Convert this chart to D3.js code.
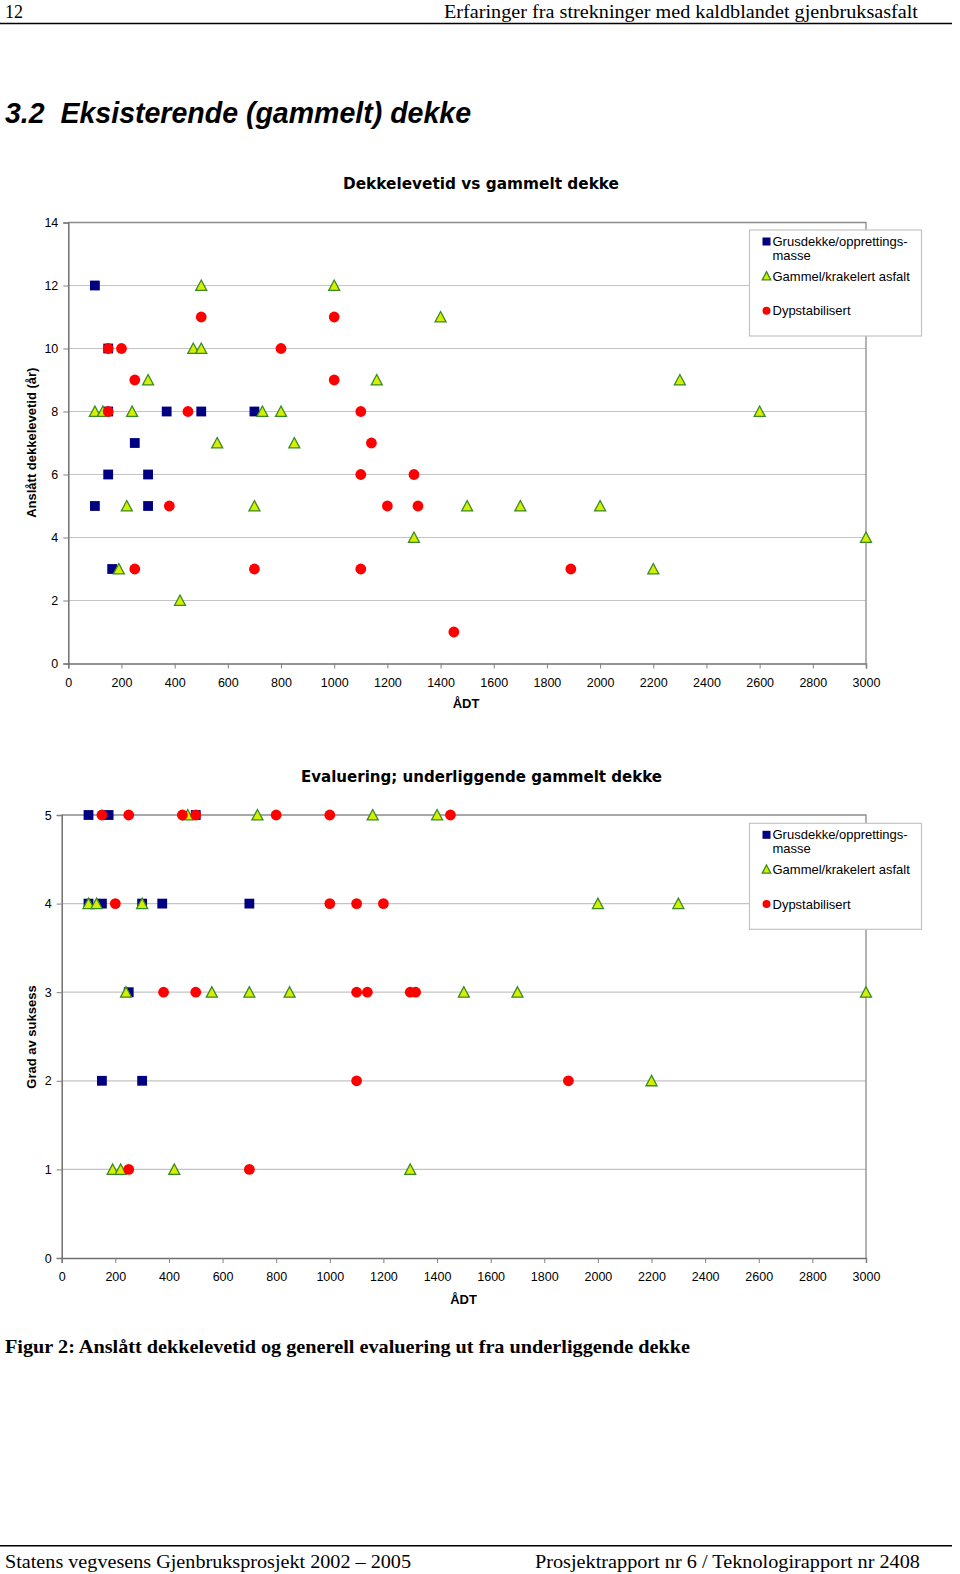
<!DOCTYPE html>
<html><head><meta charset="utf-8">
<script src="https://cdn.jsdelivr.net/npm/d3@7"></script>
<style>html,body{margin:0;padding:0;background:#fff;}svg{display:block;}</style>
</head><body>
<script>
// ---------- DATA ----------
const xTicks = [0,200,400,600,800,1000,1200,1400,1600,1800,2000,2200,2400,2600,2800,3000];
const lifeTicks = [0,2,4,6,8,10,12,14];
const gradeTicks = [0,1,2,3,4,5];
const seriesNames = ["Grusdekke/opprettings-|masse","Gammel/krakelert asfalt","Dypstabilisert"];

// Chart 1: Anslått dekkelevetid (år) vs ÅDT  [ÅDT, år]
const lifeGrus = [[100,12],[150,10],[150,8],[370,8],[500,8],[700,8],[250,7],[150,6],[300,6],[100,5],[300,5],[165,3]];
const lifeGammel = [[500,12],[1000,12],[1400,11],[470,10],[500,10],[300,9],[1160,9],[2300,9],[100,8],[130,8],[240,8],[730,8],[800,8],[2600,8],[560,7],[850,7],[220,5],[700,5],[1500,5],[1700,5],[2000,5],[1300,4],[3000,4],[190,3],[2200,3],[420,2]];
const lifeDyp = [[500,11],[1000,11],[150,10],[200,10],[800,10],[250,9],[1000,9],[150,8],[450,8],[1100,8],[1140,7],[1100,6],[1300,6],[380,5],[1200,5],[1315,5],[250,3],[700,3],[1100,3],[1890,3],[1450,1]];

// Chart 2: Grad av suksess vs ÅDT  [ÅDT, grad]
const gradeGrus = [[100,5],[175,5],[500,5],[100,4],[150,4],[300,4],[375,4],[700,4],[250,3],[150,2],[300,2]];
const gradeGammel = [[470,5],[730,5],[1160,5],[1400,5],[100,4],[130,4],[300,4],[2000,4],[2300,4],[240,3],[560,3],[700,3],[850,3],[1500,3],[1700,3],[3000,3],[2200,2],[190,1],[220,1],[420,1],[1300,1]];
const gradeDyp = [[150,5],[250,5],[450,5],[500,5],[800,5],[1000,5],[1450,5],[200,4],[1000,4],[1100,4],[1200,4],[380,3],[500,3],[1100,3],[1140,3],[1300,3],[1320,3],[1100,2],[1890,2],[250,1],[700,1]];

// ---------- STYLE ----------
const SANS = "'Liberation Sans', Arial, Helvetica, sans-serif";
const SERIF = "'Liberation Serif', 'Times New Roman', serif";
const TITLEF = "'DejaVu Sans', sans-serif";
const SQ_FILL = "#000080", TRI_FILL = "#d6ee00", TRI_STROKE = "#3a8a28", DOT_FILL = "#ff0000";

const svg = d3.select("body").append("svg").attr("width",960).attr("height",1574);

// page header
svg.append("text").attr("x",5).attr("y",17.5).attr("font-family",SERIF).attr("font-size",18).text("12");
svg.append("text").attr("x",918).attr("y",17.5).attr("text-anchor","end").attr("font-family",SERIF).attr("font-size",18)
  .attr("textLength",474).attr("lengthAdjust","spacingAndGlyphs").text("Erfaringer fra strekninger med kaldblandet gjenbruksasfalt");
svg.append("line").attr("x1",0).attr("x2",952).attr("y1",23.5).attr("y2",23.5).attr("stroke","#000").attr("stroke-width",1.5);

svg.append("text").attr("x",5).attr("y",122.5).attr("font-family",SANS).attr("font-weight","bold").attr("font-style","italic")
  .attr("font-size",29).attr("textLength",466).attr("lengthAdjust","spacingAndGlyphs").attr("xml:space","preserve")
  .text("3.2  Eksisterende (gammelt) dekke");

function drawMarker(g, type, cx, cy, s) {
  if (type === 0) {
    g.append("rect").attr("x",cx-s/2).attr("y",cy-s/2).attr("width",s).attr("height",s).attr("fill",SQ_FILL);
  } else if (type === 1) {
    const h = s*0.9;
    g.append("path").attr("d",`M${cx},${cy-h/2-0.5}L${cx+s/2},${cy+h/2}L${cx-s/2},${cy+h/2}Z`)
      .attr("fill",TRI_FILL).attr("stroke",TRI_STROKE).attr("stroke-width",1.3).attr("stroke-linejoin","miter");
  } else {
    g.append("circle").attr("cx",cx).attr("cy",cy).attr("r",s/2).attr("fill",DOT_FILL);
  }
}

function chart(o) {
  const x = d3.scaleLinear().domain([0,3000]).range([o.left,o.right]);
  const y = d3.scaleLinear().domain([0,o.yMax]).range([o.bottom,o.top]);
  const g = svg.append("g");

  // title
  g.append("text").attr("x",o.titleX).attr("y",o.titleY).attr("text-anchor","middle").attr("font-family",TITLEF)
    .attr("font-weight","bold").attr("font-size",16).attr("textLength",o.titleLen).attr("lengthAdjust","spacingAndGlyphs")
    .text(o.title);

  // gridlines
  g.append("g").selectAll("line").data(o.yTicks.filter(v => v>0 && v<o.yMax)).join("line")
    .attr("x1",o.left).attr("x2",o.right).attr("y1",d=>y(d)).attr("y2",d=>y(d))
    .attr("stroke","#c4c4c4").attr("stroke-width",1.2);
  // plot border top/right
  g.append("path").attr("d",`M${o.left},${o.top}H${o.right}V${o.bottom}`).attr("fill","none").attr("stroke","#8c8c8c").attr("stroke-width",1.3);

  // axes
  const xa = g.append("g").attr("transform",`translate(0,${o.bottom})`)
    .call(d3.axisBottom(x).tickValues(xTicks).tickSize(5).tickPadding(o.xPad).tickFormat(d3.format("d")));
  const ya = g.append("g").attr("transform",`translate(${o.left},0)`)
    .call(d3.axisLeft(y).tickValues(o.yTicks).tickSize(5).tickPadding(5).tickFormat(d3.format("d")));
  [xa,ya].forEach(a => {
    a.select(".domain").attr("stroke","#707070").attr("stroke-width",1.5);
    a.selectAll(".tick line").attr("stroke","#808080");
    a.selectAll(".tick text").attr("font-family",SANS).attr("font-size",12.5).attr("fill","#000");
  });

  // axis titles
  g.append("text").attr("x",o.xlabelX).attr("y",o.xlabelY).attr("text-anchor","middle").attr("dy","0.35em")
    .attr("font-family",SANS).attr("font-weight","bold").attr("font-size",13).text("ÅDT");
  g.append("text").attr("transform",`translate(31,${o.ylabelY}) rotate(-90)`).attr("text-anchor","middle").attr("dy","0.35em")
    .attr("font-family",SANS).attr("font-weight","bold").attr("font-size",13).text(o.ylabel);

  // points
  o.series.forEach((data,i) => {
    const sg = g.append("g");
    data.forEach(d => drawMarker(sg, i, x(d[0]), y(d[1]), i===0 ? 9.8 : (i===1 ? 11 : 10.8)));
  });

  // legend
  const lg = g.append("g");
  lg.append("rect").attr("x",749.5).attr("y",o.legTop).attr("width",172).attr("height",106)
    .attr("fill","#fff").attr("stroke","#c4c4c4").attr("stroke-width",1.2);
  const rows = [[0,11.5],[1,46],[2,80.7]];
  rows.forEach(([i,off]) => {
    const cy = o.legTop + off;
    drawMarker(lg, i, 766.5, cy, i===1 ? 8.5 : 8);
    const parts = seriesNames[i].split("|");
    parts.forEach((p,k) => {
      lg.append("text").attr("x",772.5).attr("y",cy + k*14).attr("dy","0.35em")
        .attr("font-family",SANS).attr("font-size",13).text(p);
    });
  });
}

chart({
  left:68.3, right:866, top:222.5, bottom:663.5, yMax:14, yTicks:lifeTicks,
  series:[lifeGrus,lifeGammel,lifeDyp],
  title:"Dekkelevetid vs gammelt dekke", titleX:481, titleY:189, titleLen:276,
  xPad:9.5, xlabelX:466, xlabelY:703.6, ylabel:"Anslått dekkelevetid (år)", ylabelY:442.7, legTop:230
});

chart({
  left:61.7, right:866, top:815, bottom:1258, yMax:5, yTicks:gradeTicks,
  series:[gradeGrus,gradeGammel,gradeDyp],
  title:"Evaluering; underliggende gammelt dekke", titleX:481.5, titleY:781.5, titleLen:361,
  xPad:9, xlabelX:463.6, xlabelY:1299, ylabel:"Grad av suksess", ylabelY:1037, legTop:823.3
});

// caption
svg.append("text").attr("x",5).attr("y",1352.5).attr("font-family",SERIF).attr("font-weight","bold").attr("font-size",19)
  .attr("textLength",685).attr("lengthAdjust","spacingAndGlyphs")
  .text("Figur 2: Anslått dekkelevetid og generell evaluering ut fra underliggende dekke");

// footer
svg.append("line").attr("x1",0).attr("x2",952).attr("y1",1545.7).attr("y2",1545.7).attr("stroke","#000").attr("stroke-width",1.5);
svg.append("text").attr("x",5).attr("y",1567.5).attr("font-family",SERIF).attr("font-size",18.5)
  .attr("textLength",406).attr("lengthAdjust","spacingAndGlyphs").text("Statens vegvesens Gjenbruksprosjekt 2002 – 2005");
svg.append("text").attr("x",535).attr("y",1567.5).attr("font-family",SERIF).attr("font-size",18.5)
  .attr("textLength",385).attr("lengthAdjust","spacingAndGlyphs").text("Prosjektrapport nr 6 / Teknologirapport nr 2408");
</script>
</body></html>
